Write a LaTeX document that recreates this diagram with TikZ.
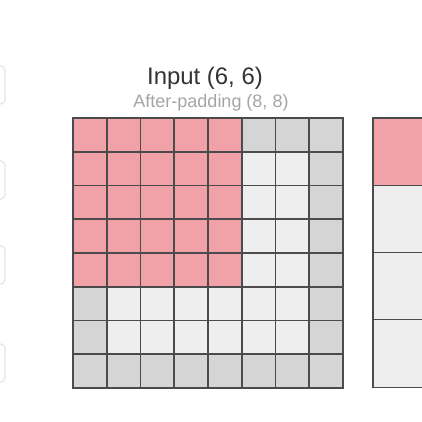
\documentclass[tikz,border=0pt]{standalone}
\usepackage{fontspec}
\setmainfont{Liberation Sans}
\usetikzlibrary{positioning}
\definecolor{pinkcell}{RGB}{241,162,168}
\definecolor{padcell}{RGB}{213,213,213}
\definecolor{lightcell}{RGB}{238,238,238}
\definecolor{gridline}{RGB}{75,75,75}
\definecolor{subgray}{RGB}{165,165,165}
\definecolor{sidegray}{RGB}{228,228,228}

\begin{document}
\begin{tikzpicture}[x=0.025cm, y=-0.025cm,
    cell/.style={shape=rectangle, inner sep=0pt, outer sep=0pt, minimum size=0.84375cm},
    bigcell/.style={shape=rectangle, inner sep=0pt, outer sep=0pt, minimum size=1.6825cm},
    wire/.style={draw=gridline, line width=1.1pt, line cap=rect},
    sidebox/.style={shape=rectangle, draw=sidegray, line width=0.8pt, rounded corners=3pt, minimum width=0.75cm, minimum height=0.95cm}]
        	% Frame:
        	\useasboundingbox (0, 0) rectangle (422, 422);
        	\clip (0, 0) rectangle (422, 422);
        	\fill[white] (0, 0) rectangle (422, 422);
        	% Titles:
        	\node[anchor=base, font=\fontsize{17}{20}\selectfont, text=black!80] (title) at (205, 84){Input (6, 6)};
        	\node[anchor=base, font=\fontsize{12.8}{15}\selectfont, text=subgray] (subtitle) at (211, 107){After-padding (8, 8)};
        	% Padded input grid:
        	\foreach \r in {0,...,7}{
        	  \foreach \c in {0,...,7}{
        	    \pgfmathtruncatemacro\k{(\r<5 && \c<5) ? 2 : ((\r==0 || \c==0 || \r==7 || \c==7) ? 1 : 0)}
        	    \ifcase\k \def\cellcol{lightcell}\or \def\cellcol{padcell}\or \def\cellcol{pinkcell}\fi
        	    \node[cell, fill=\cellcol] (in-\r-\c) at (89.875+33.75*\c, 134.875+33.75*\r){};
        	  }
        	}
        	\foreach \i in {0,...,7}{
        	  \draw[wire] (in-0-\i.north west) -- (in-7-\i.south west);
        	  \draw[wire] (in-\i-0.north west) -- (in-\i-7.north east);
        	}
        	\draw[wire] (in-0-7.north east) -- (in-7-7.south east);
        	\draw[wire] (in-7-0.south west) -- (in-7-7.south east);
        	% Output grid, cut off at the right:
        	\foreach \r in {0,...,3}{
        	  \ifnum\r=0 \def\cellcol{pinkcell}\else \def\cellcol{lightcell}\fi
        	  \node[bigcell, fill=\cellcol] (out-\r) at (406.65, 151.65+67.3*\r){};
        	  \draw[wire, line width=0.8pt] (out-\r.north west) -- (out-\r.north east);
        	}
        	\draw[wire, line width=0.8pt] (out-0.north west) -- (out-3.south west);
        	\draw[wire, line width=0.8pt] (out-3.south west) -- (out-3.south east);
        	% Boxes at the left edge:
        	\node[sidebox] (side1) at (-10, 85){};
        	\node[sidebox] (side2) at (-10, 180){};
        	\node[sidebox] (side3) at (-10, 265){};
        	\node[sidebox] (side4) at (-10, 363){};
\end{tikzpicture}
\end{document}
